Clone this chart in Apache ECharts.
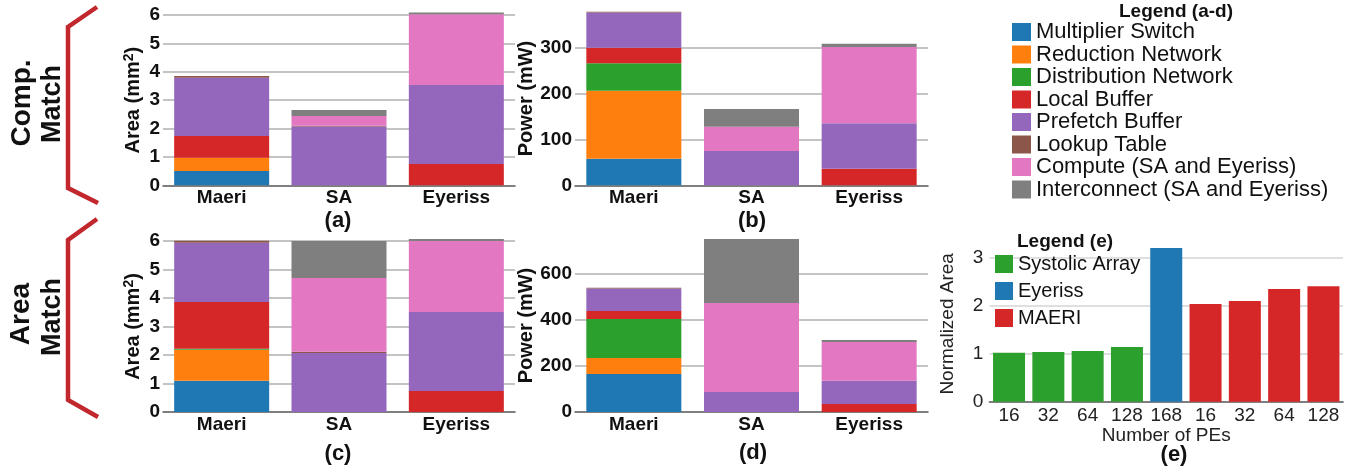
<!DOCTYPE html>
<html>
<head>
<meta charset="utf-8">
<script src="https://cdn.jsdelivr.net/npm/echarts@6/dist/echarts.min.js"></script>
<style>
  html, body { margin: 0; padding: 0; background: #fff; }
  #chart { width: 1353px; height: 467px; }
</style>
</head>
<body>
<div id="chart"></div>
<script>
const systems = ['Maeri', 'SA', 'Eyeriss']
const components = ['Multiplier Switch', 'Reduction Network', 'Distribution Network', 'Local Buffer',
  'Prefetch Buffer', 'Lookup Table', 'Compute (SA and Eyeriss)', 'Interconnect (SA and Eyeriss)']

// one row per component, columns = Maeri, SA, Eyeriss
const areaCompMatch = [
  [0.50, 0, 0],
  [0.47, 0, 0],
  [0, 0, 0],
  [0.77, 0, 0.75],
  [2.05, 2.07, 2.78],
  [0.06, 0.03, 0],
  [0, 0.34, 2.50],
  [0, 0.21, 0.06]
]
const powerCompMatch = [
  [58, 0, 0],
  [149, 0, 0],
  [60, 0, 0],
  [34, 0, 36],
  [77, 75, 100],
  [2, 0, 0],
  [0, 53, 167],
  [0, 39, 7]
]
const areaAreaMatch = [
  [1.10, 0, 0],
  [1.08, 0, 0],
  [0.04, 0, 0],
  [1.64, 0, 0.74],
  [2.08, 2.07, 2.77],
  [0.07, 0.04, 0],
  [0, 2.59, 2.49],
  [0, 1.30, 0.07]
]
const powerAreaMatch = [
  [165, 0, 0],
  [69, 0, 0],
  [169, 0, 0],
  [35, 0, 35],
  [97, 87, 100],
  [4, 0, 0],
  [0, 386, 169],
  [0, 277, 8]
]

// panel (e)
const peLabels = ['16', '32', '64', '128', '168', '16', '32', '64', '128']
const saArea = [1.02, 1.04, 1.06, 1.14, '-', '-', '-', '-', '-']
const eyerissArea = ['-', '-', '-', '-', 3.21, '-', '-', '-', '-']
const maeriArea = ['-', '-', '-', '-', '-', 2.04, 2.10, 2.35, 2.41]

const compColors = ['#1f77b4', '#ff7f0e', '#2ca02c', '#d62728', '#9467bd', '#8c564b', '#e377c2', '#7f7f7f']
const FONT = 'Liberation Sans, Arial, Helvetica, sans-serif'
const INK = '#111'

let myChart = echarts.init(document.getElementById('chart'))

const panels = [
  {data: areaCompMatch, max: 6, interval: 1, name: 'Area (mm{sup|2})', gap: 18},
  {data: powerCompMatch, max: 380, interval: 100, name: 'Power (mW)', gap: 37},
  {data: areaAreaMatch, max: 6, interval: 1, name: 'Area (mm{sup|2})', gap: 18},
  {data: powerAreaMatch, max: 750, interval: 200, name: 'Power (mW)', gap: 37}
]

const grids = [
  {left: 163, top: 15, width: 352, height: 170.3},
  {left: 575, top: 11.7, width: 353, height: 173.6},
  {left: 163, top: 241, width: 352, height: 171},
  {left: 575, top: 239, width: 353, height: 173},
  {left: 989.4, top: 246, width: 353.7, height: 155.7}
].map(g => Object.assign({outerBoundsMode: 'none', containLabel: false}, g))

let xAxes = []
let yAxes = []
let series = []

panels.forEach((p, i) => {
  xAxes.push({
    type: 'category',
    gridIndex: i,
    data: systems,
    axisLine: {lineStyle: {color: '#555', width: 1.5}},
    axisTick: {show: false},
    axisLabel: {color: INK, fontFamily: FONT, fontSize: 19, fontWeight: 'bold', margin: 3}
  })
  yAxes.push({
    type: 'value',
    gridIndex: i,
    min: 0,
    max: p.max,
    interval: p.interval,
    name: p.name,
    nameLocation: 'middle',
    nameGap: p.gap,
    nameTextStyle: {
      color: INK, fontFamily: FONT, fontSize: 20, fontWeight: 'bold',
      rich: {sup: {fontSize: 14, fontWeight: 'bold', fontFamily: FONT, color: INK, verticalAlign: 'top', padding: [0, 0, 9, 0]}}
    },
    axisLine: {show: false},
    axisTick: {show: false},
    axisLabel: {color: INK, fontFamily: FONT, fontSize: 19, fontWeight: 'bold', margin: 3, showMaxLabel: p.max % p.interval === 0},
    splitLine: {show: true, showMinLine: false, showMaxLine: p.max % p.interval === 0, lineStyle: {color: '#c4c4c4', width: 2}}
  })
  components.forEach((c, k) => {
    series.push({
      name: c,
      type: 'bar',
      xAxisIndex: i,
      yAxisIndex: i,
      stack: 'p' + i,
      barWidth: 95,
      clip: false,
      data: p.data[k],
      itemStyle: {color: compColors[k]}
    })
  })
})

// panel (e)
xAxes.push({
  type: 'category',
  gridIndex: 4,
  data: peLabels,
  name: 'Number of PEs',
  nameLocation: 'middle',
  nameGap: 25,
  nameTextStyle: {color: '#222', fontFamily: FONT, fontSize: 19},
  axisLine: {lineStyle: {color: '#555', width: 1.5}},
  axisTick: {show: false},
  axisLabel: {color: '#222', fontFamily: FONT, fontSize: 19, margin: 5, interval: 0, hideOverlap: false}
})
yAxes.push({
  type: 'value',
  gridIndex: 4,
  min: 0,
  max: 3.25,
  interval: 1,
  name: 'Normalized Area',
  nameLocation: 'middle',
  nameGap: 32,
  nameTextStyle: {color: '#222', fontFamily: FONT, fontSize: 19},
  axisLine: {show: false},
  axisTick: {show: false},
  axisLabel: {color: '#222', fontFamily: FONT, fontSize: 19, margin: 6, showMaxLabel: false},
  splitLine: {show: true, showMinLine: false, showMaxLine: false, lineStyle: {color: '#d4d4d4', width: 1.5}}
})
const eSeries = [['Systolic Array', saArea, '#2ca02c'], ['Eyeriss', eyerissArea, '#1f77b4'], ['MAERI', maeriArea, '#d62728']]
eSeries.forEach(s => {
  series.push({
    name: s[0],
    type: 'bar',
    xAxisIndex: 4,
    yAxisIndex: 4,
    stack: 'e',
    barWidth: 32,
    data: s[1],
    itemStyle: {color: s[2]}
  })
})

function label (text, x, y, size, weight, rot) {
  return {
    type: 'text',
    x: x,
    y: y,
    rotation: rot || 0,
    style: {text: text, fill: INK, fontFamily: FONT, fontSize: size, fontWeight: weight, align: 'center', verticalAlign: 'middle'}
  }
}
function bracket (pts) {
  return {type: 'polyline', shape: {points: pts}, style: {stroke: '#c1272d', lineWidth: 4.5, fill: 'none'}}
}

myChart.setOption({
  animation: false,
  grid: grids,
  xAxis: xAxes,
  yAxis: yAxes,
  legend: [
    {
      data: components,
      orient: 'vertical',
      left: 1012,
      top: 21,
      padding: 0,
      itemWidth: 19,
      itemHeight: 18,
      itemGap: 0.5,
      icon: 'rect',
      selectedMode: false,
      textStyle: {color: INK, fontFamily: FONT, fontSize: 22, lineHeight: 18}
    },
    {
      data: ['Systolic Array', 'Eyeriss', 'MAERI'],
      orient: 'vertical',
      left: 995,
      top: 254,
      padding: 0,
      itemWidth: 18,
      itemHeight: 18,
      itemGap: 7,
      icon: 'rect',
      selectedMode: false,
      textStyle: {color: INK, fontFamily: FONT, fontSize: 20, lineHeight: 18}
    }
  ],
  graphic: [
    bracket([[97, 7], [68, 27], [68, 188], [98, 203]]),
    bracket([[97, 219], [68, 240], [68, 400], [98, 417]]),
    label('Comp.', 22, 103, 28, 'bold', Math.PI / 2),
    label('Match', 53, 104, 27, 'bold', Math.PI / 2),
    label('Area', 21, 314, 28, 'bold', Math.PI / 2),
    label('Match', 53, 317, 27, 'bold', Math.PI / 2),
    label('(a)', 338, 221, 22, 'bold'),
    label('(b)', 752, 221, 22, 'bold'),
    label('(c)', 338, 454, 22, 'bold'),
    label('(d)', 753, 453, 22, 'bold'),
    label('(e)', 1174, 455, 22, 'bold'),
    label('Legend (a-d)', 1176, 12, 19, 'bold'),
    label('Legend (e)', 1065, 242, 19, 'bold')
  ],
  series: series
})
</script>
</body>
</html>
